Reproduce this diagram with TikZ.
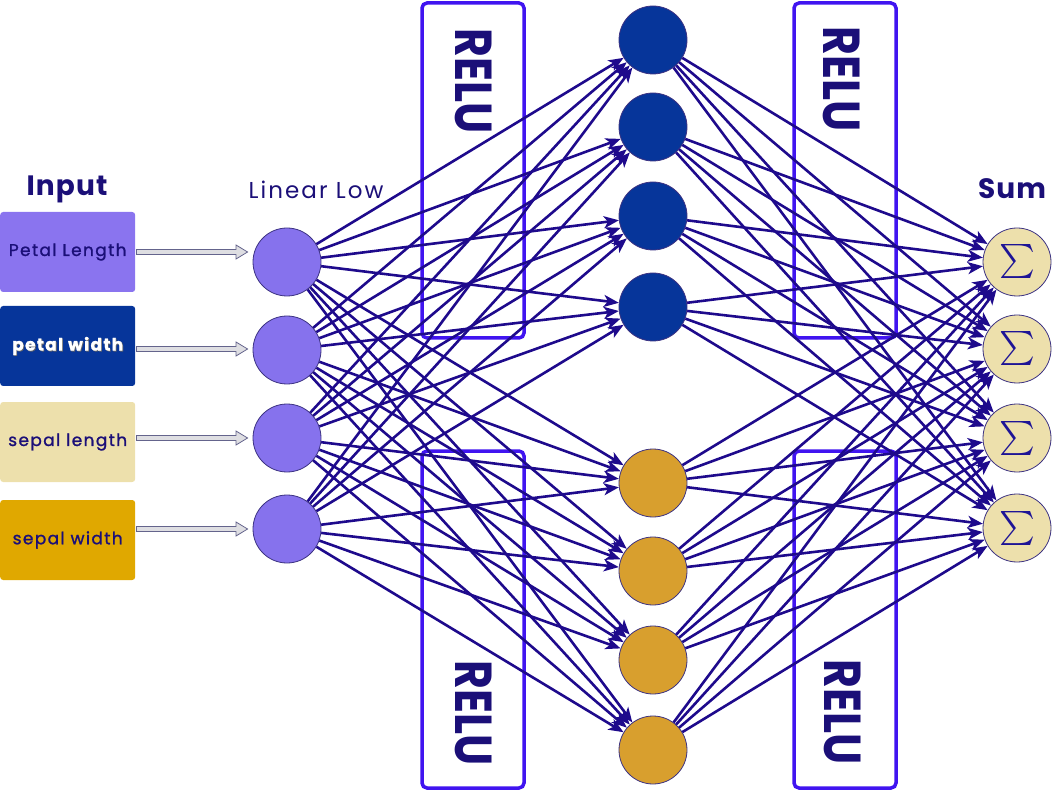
\documentclass[tikz,border=0pt]{standalone}
\usepackage{fontspec}
\setmainfont{Poppins}
\newfontfamily\boxfont{Poppins}[LetterSpace=8,FakeBold=1.2]
\newfontfamily\thinfont{Poppins}[LetterSpace=9]
\usetikzlibrary{arrows.meta,calc}

\definecolor{ink}{RGB}{27,15,120}
\definecolor{wire}{RGB}{30,10,140}
\definecolor{relu}{RGB}{64,20,240}
\definecolor{lav}{RGB}{134,114,237}
\definecolor{lavbox}{RGB}{138,116,239}
\definecolor{navyfill}{RGB}{6,53,154}
\definecolor{beige}{RGB}{237,224,172}
\definecolor{gold}{RGB}{224,168,0}
\definecolor{ochre}{RGB}{216,159,46}
\definecolor{rim}{RGB}{60,50,130}
\definecolor{pipe}{RGB}{100,100,140}
\definecolor{pipefill}{RGB}{222,222,226}
\definecolor{sigmaink}{RGB}{30,20,150}

\begin{document}
\begin{tikzpicture}[x=1pt,y=-1pt,
  neuron/.style={circle,minimum size=68pt,inner sep=0pt,draw=rim,line width=0.8pt},
  inbox/.style={rounded corners=3pt,minimum width=135pt,minimum height=80pt,inner sep=0pt,
    font=\fontsize{17}{17}\boxfont},
  reluframe/.style={draw=relu,line width=3.5pt,rounded corners=5pt},
  relutext/.style={rotate=-90,text=ink,font=\fontsize{52}{52}\selectfont\bfseries},
  edge/.style={draw=wire,line width=2.6pt,-{Stealth[length=15pt,width=12pt,inset=4pt]}},
  heading/.style={text=ink,font=\fontsize{28}{28}\selectfont\bfseries\addfontfeatures{LetterSpace=4}},
  pipearrow/.style={draw=pipe,fill=pipefill,line width=0.8pt,line join=miter}
]
\useasboundingbox (0,0) rectangle (1052,791);

% ReLU frames behind the wiring
\draw[reluframe] (422,3) rectangle (524,338);
\draw[reluframe] (422,451) rectangle (524,788);
\draw[reluframe] (794,3) rectangle (896,338);
\draw[reluframe] (794,451) rectangle (896,788);
\node[relutext] (r1) at (474,81) {\scalebox{0.85}[1]{RELU}};
\node[relutext] (r2) at (474,713) {\scalebox{0.85}[1]{RELU}};
\node[relutext] (r3) at (842,79) {\scalebox{0.85}[1]{RELU}};
\node[relutext] (r4) at (843,712) {\scalebox{0.85}[1]{RELU}};

% headings
\node[heading] (tin) at (67,189) {Input};
\node[text=ink,font=\fontsize{23}{23}\thinfont] (tlin) at (316,190) {Linear Low};
\node[heading] (tsum) at (1012,189) {Sum};

% input boxes
\node[inbox,fill=lavbox,text=ink,anchor=west] (in1) at (0,252) {Petal Length};
\node[inbox,fill=navyfill,anchor=west] (in2) at (0,346) {};
\node[text=black!60,font=\fontsize{17}{17}\boxfont\bfseries] (in2s) at ($(in2.center)+(0.8,0.8)$) {petal width};
\node[text=white,font=\fontsize{17}{17}\boxfont\bfseries] (in2t) at (in2.center) {petal width};
\node[inbox,fill=beige,text=ink,anchor=west] (in3) at (0,442) {sepal length};
\node[inbox,fill=gold,text=ink,anchor=west] (in4) at (0,540) {sepal width};

% linear layer
\foreach \y [count=\i] in {262,350,438,529}
  \node[neuron,fill=lav] (L\i) at (287,\y) {};

% hidden layer: four blue, four ochre
\foreach \y [count=\i] in {40,127,216,307}
  \node[neuron,fill=navyfill] (H\i) at (653,\y) {};
\foreach \y [count=\i from 5] in {483,571,660,750}
  \node[neuron,fill=ochre] (H\i) at (653,\y) {};

% summation layer
\foreach \y [count=\i] in {262,349,438,528}
  \node[neuron,fill=beige,text=sigmaink] (S\i) at (1017,\y) {\scalebox{3.4}{$\sum$}};

% hollow feed arrows from the inputs
\foreach \i/\y in {1/252,2/349,3/438,4/529}{
  \coordinate (a\i) at (in\i.east |- 0,\y);
  \draw[pipearrow] ($(a\i)+(1,-2.5)$) -- (236,\y-2.5) -- (236,\y-7) -- ($(L\i.west |- 0,\y)+(-5,0)$)
    -- (236,\y+7) -- (236,\y+2.5) -- ($(a\i)+(1,2.5)$) -- cycle;
}

% dense connections
\foreach \i in {1,...,4}
  \foreach \j in {1,...,8}
    \draw[edge] (L\i) -- (H\j);
\foreach \j in {1,...,8}
  \foreach \k in {1,...,4}
    \draw[edge] (H\j) -- (S\k);
\end{tikzpicture}
\end{document}
